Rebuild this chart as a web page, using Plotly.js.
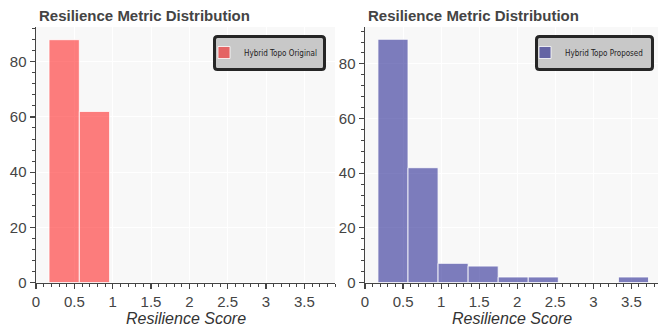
<!DOCTYPE html>
<html>
<head>
<meta charset="utf-8">
<script src="https://cdn.plot.ly/plotly-3.0.1.min.js"></script>
<style>html,body{margin:0;padding:0;background:#fff;}#chart{width:658px;height:329px;}</style>
</head>
<body>
<div id="chart"></div>
<script>
// Histogram bin edges (Resilience Score)
const binEdges = [0.17, 0.565, 0.96, 1.355, 1.75, 2.145, 2.54, 2.935, 3.33, 3.725];
// Counts per bin
const originalCounts = [88, 62, 0, 0, 0, 0, 0, 0, 0];
const proposedCounts = [89, 42, 7, 6, 2, 2, 0, 0, 2];
const seriesNames = ["Hybrid Topo Original", "Hybrid Topo Proposed"];
const panelTitle = "Resilience Metric Distribution";
const xLabel = "Resilience Score";

const centers = binEdges.slice(0, -1).map((e, i) => (e + binEdges[i + 1]) / 2);
const widths = binEdges.slice(0, -1).map((e, i) => binEdges[i + 1] - e);

const W = 658, H = 329;
const px = v => v / W;
const py = v => 1 - v / H;
const fontFam = '"Liberation Sans", Arial, Helvetica, sans-serif';
const legendFam = '"DejaVu Sans Condensed", "Liberation Sans Narrow", "Liberation Sans", Arial, sans-serif';

const traces = [
  {type: 'bar', x: centers, y: originalCounts, width: widths, name: seriesNames[0],
   xaxis: 'x', yaxis: 'y', legend: 'legend',
   marker: {color: 'rgba(255,0,0,0.5)', line: {color: 'rgba(255,255,255,0.8)', width: 1}},
   hoverinfo: 'x+y'},
  {type: 'bar', x: centers, y: proposedCounts, width: widths, name: seriesNames[1],
   xaxis: 'x2', yaxis: 'y2', legend: 'legend2',
   marker: {color: 'rgba(0,0,128,0.5)', line: {color: 'rgba(255,255,255,0.8)', width: 1}},
   hoverinfo: 'x+y'}
];

function xax(domain, range, anchor) {
  return {
    domain: domain, range: range, anchor: anchor,
    showline: true, linecolor: '#444', linewidth: 1.5,
    ticks: 'outside', ticklen: 5, tickwidth: 1.2, tickcolor: '#444',
    tick0: 0, dtick: 0.5,
    minor: {dtick: 0.1, ticks: 'outside', ticklen: 3, tickwidth: 1, tickcolor: '#444', showgrid: false},
    showgrid: true, gridcolor: '#ffffff', gridwidth: 1, zeroline: false,
    tickfont: {family: fontFam, size: 15, color: '#444'},
    fixedrange: true
  };
}
function yax(domain, range, anchor) {
  return {
    domain: domain, range: range, anchor: anchor,
    showline: true, linecolor: '#444', linewidth: 1.5,
    ticks: 'outside', ticklen: 5, tickwidth: 1.2, tickcolor: '#444',
    tick0: 0, dtick: 20,
    minor: {dtick: 4, ticks: 'outside', ticklen: 3, tickwidth: 1, tickcolor: '#444', showgrid: false},
    showgrid: true, gridcolor: '#ffffff', gridwidth: 1, zeroline: false,
    tickfont: {family: fontFam, size: 15, color: '#444'},
    fixedrange: true
  };
}

const yDom = [py(282.5), py(27)];
const legendStyle = (xLeft) => ({
  x: px(xLeft), xanchor: 'left', xref: 'paper',
  y: py(52.5), yanchor: 'middle', yref: 'paper',
  bgcolor: 'rgba(0,0,0,0)', borderwidth: 0,
  font: {family: legendFam, size: 8, color: '#222'}
});

function roundRect(x0, y0, x1, y1, r) {
  const X = v => px(v), Y = v => py(v);
  return `M${X(x0 + r)},${Y(y0)} L${X(x1 - r)},${Y(y0)} Q${X(x1)},${Y(y0)} ${X(x1)},${Y(y0 + r)} ` +
         `L${X(x1)},${Y(y1 - r)} Q${X(x1)},${Y(y1)} ${X(x1 - r)},${Y(y1)} L${X(x0 + r)},${Y(y1)} ` +
         `Q${X(x0)},${Y(y1)} ${X(x0)},${Y(y1 - r)} L${X(x0)},${Y(y0 + r)} Q${X(x0)},${Y(y0)} ${X(x0 + r)},${Y(y0)} Z`;
}
const boxStyle = {type: 'path', xref: 'paper', yref: 'paper', layer: 'above',
                  fillcolor: '#c8c8c8', line: {color: '#262626', width: 3}};

const titleFont = {family: fontFam, size: 15, color: '#444', weight: 'bold'};
const axisTitleFont = {family: fontFam, size: 16, color: '#333', style: 'italic'};

const layout = {
  width: W, height: H, autosize: false,
  margin: {l: 0, r: 0, t: 0, b: 0},
  paper_bgcolor: '#ffffff', plot_bgcolor: '#f8f8f8',
  showlegend: true, barmode: 'overlay',
  xaxis: xax([px(36), px(335)], [0, 3.9], 'y'),
  yaxis: yax(yDom, [0, 92.6], 'x'),
  xaxis2: xax([px(365), px(658)], [0, 3.85], 'y2'),
  yaxis2: yax(yDom, [0, 93.5], 'x2'),
  legend: legendStyle(204),
  legend2: legendStyle(525),
  shapes: [
    Object.assign({path: roundRect(214.5, 36.5, 324.5, 69.5, 3)}, boxStyle),
    Object.assign({path: roundRect(536.5, 36.5, 652.5, 69.5, 3)}, boxStyle)
  ],
  annotations: [
    {text: panelTitle, xref: 'paper', yref: 'paper', x: px(37), y: py(15), xanchor: 'left', yanchor: 'middle',
     showarrow: false, font: titleFont},
    {text: panelTitle, xref: 'paper', yref: 'paper', x: px(366), y: py(15), xanchor: 'left', yanchor: 'middle',
     showarrow: false, font: titleFont},
    {text: xLabel, xref: 'paper', yref: 'paper', x: px((36 + 335) / 2), y: py(318.5), xanchor: 'center', yanchor: 'middle',
     showarrow: false, font: axisTitleFont},
    {text: xLabel, xref: 'paper', yref: 'paper', x: px((365 + 658) / 2), y: py(318.5), xanchor: 'center', yanchor: 'middle',
     showarrow: false, font: axisTitleFont}
  ]
};

Plotly.newPlot('chart', traces, layout, {displayModeBar: false, staticPlot: true});
</script>
</body>
</html>
